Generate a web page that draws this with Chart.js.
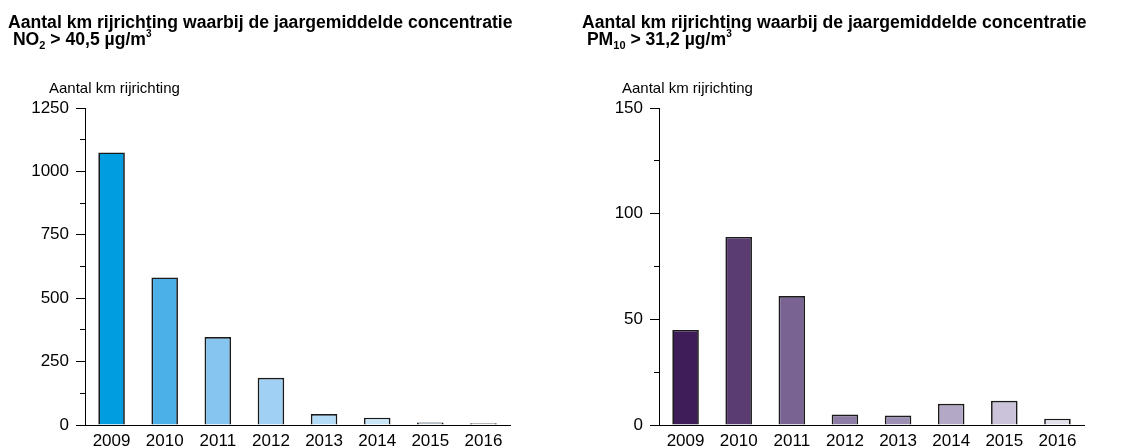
<!DOCTYPE html>
<html>
<head>
<meta charset="utf-8">
<script src="https://cdn.jsdelivr.net/npm/chart.js@4.4.1/dist/chart.umd.min.js"></script>
<style>
    body { margin: 0; background: #fff; font-family: "Liberation Sans", Arial, sans-serif; }
    #wrap { position: relative; width: 1124px; height: 448px; overflow: hidden; }
    .box { position: absolute; top: 0; width: 562px; height: 448px; }
    .box canvas { position: absolute; left: 0; top: 0; }
    .title { position: absolute; top: 14px; font-weight: bold; font-size: 17.6px; line-height: 17.4px; color: #000; white-space: pre; z-index: 2; }
    .cap { position: absolute; top: 79px; font-size: 15px; color: #000; white-space: pre; z-index: 2; }
    sub { font-size: 11px; vertical-align: -4px; line-height: 0; }
    sup { font-size: 10px; vertical-align: 8px; line-height: 0; }
</style>
</head>
<body>
<div id="wrap">
    <div class="box" style="left:0">
        <canvas id="no2Chart" width="562" height="448"></canvas>
        <div class="title" style="left:8px">Aantal km rijrichting waarbij de jaargemiddelde concentratie
 NO<sub>2</sub> &gt; 40,5 µg/m<sup>3</sup></div>
        <div class="cap" style="left:49px">Aantal km rijrichting</div>
    </div>
    <div class="box" style="left:562px">
        <canvas id="pm10Chart" width="562" height="448"></canvas>
        <div class="title" style="left:20px">Aantal km rijrichting waarbij de jaargemiddelde concentratie
 PM<sub>10</sub> &gt; 31,2 µg/m<sup>3</sup></div>
        <div class="cap" style="left:60px">Aantal km rijrichting</div>
    </div>
</div>
<script>
const years = ["2009", "2010", "2011", "2012", "2013", "2014", "2015", "2016"];

const no2Values = [1075, 582, 347, 186, 43, 29, 10, 7];
const pm10Values = [45, 89, 61, 5, 4.5, 10, 11.5, 3];

const no2Colors = ["#009ee0", "#4bafe8", "#86c5f0", "#a0d0f3", "#b5dcf6", "#c9e6f9", "#ddeffb", "#e8f4fc"];
const pm10Colors = ["#3e1d58", "#5a3c73", "#786393", "#8c7ba4", "#9d8fb3", "#b3a8c6", "#cac3d9", "#e3e0ec"];

// y axis: max, labelled step, small tick step
const no2Axis = [1250, 250, 125];
const pm10Axis = [150, 50, 25];

const tickFont = { family: "'Liberation Sans', Arial, sans-serif", size: 17 };

function makeChart(id, values, colors, axis, axisWidth, rightPad) {
    const [yMax, major, minor] = axis;

    const data = {
        labels: years,
        datasets: [
            {
                data: values,
                backgroundColor: colors,
                borderColor: "#1a1a1a",
                borderWidth: 1.7,
                categoryPercentage: 1,
                barPercentage: 0.5,
            },
        ],
    };

    const config = {
        type: "bar",
        data: data,
        options: {
            responsive: false,
            animation: false,
            layout: { padding: { top: 108, right: rightPad, left: 0, bottom: 0 } },
            plugins: { legend: { display: false }, tooltip: { enabled: false } },
            scales: {
                x: {
                    grid: { display: false, drawTicks: false },
                    border: { color: "#000", width: 1 },
                    ticks: { font: tickFont, color: "#000", padding: 6 },
                    afterFit: (scale) => { scale.height = 23; },
                },
                y: {
                    min: 0,
                    max: yMax,
                    ticks: {
                        stepSize: minor,
                        autoSkip: false,
                        font: tickFont,
                        color: "#000",
                        padding: 7,
                        callback: (v) => (v % major === 0 ? v : ""),
                    },
                    grid: {
                        drawOnChartArea: false,
                        tickLength: 9,
                        tickColor: "#000",
                        tickBorderDash: (ctx) => (ctx.tick && ctx.tick.value % major !== 0 ? [0, 4, 5, 100] : []),
                    },
                    border: { color: "#000", width: 1 },
                    afterFit: (scale) => { scale.width = axisWidth; },
                },
            },
        },
    };

    return new Chart(document.getElementById(id), config);
}

makeChart("no2Chart", no2Values, no2Colors, no2Axis, 85, 52);
makeChart("pm10Chart", pm10Values, pm10Colors, pm10Axis, 97, 40);
</script>
</body>
</html>
